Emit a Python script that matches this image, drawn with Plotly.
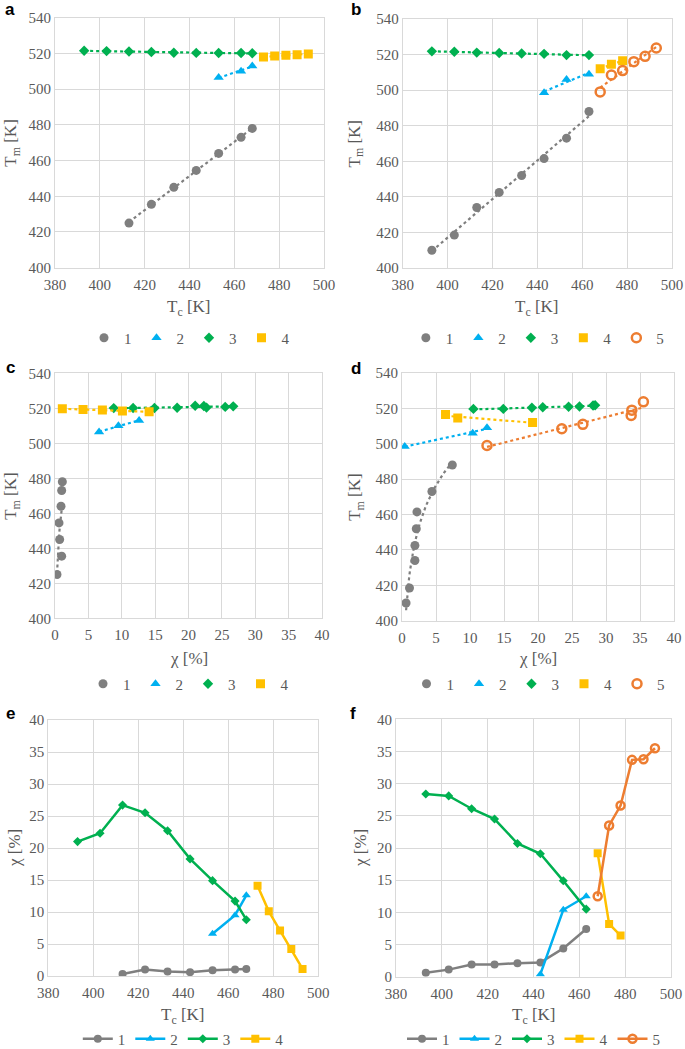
import numpy as np
import plotly.graph_objects as go

# ---------------- data: material A (panels a, c, e) ----------------
A1_tc = [413, 423, 433, 443, 453, 463, 468]
A1_tm = [425.0, 435.5, 445.0, 454.5, 464.0, 473.0, 478.0]
A1_chi = [0.3, 1.0, 0.7, 0.6, 0.9, 1.0, 1.1]

A2_tc = [453, 463, 468]
A2_tm = [506.5, 510.0, 513.0]
A2_chi = [6.6, 9.5, 12.6]

A3_tc = [393, 403, 413, 423, 433, 443, 453, 463, 468]
A3_tm = [521.5, 521.3, 521.1, 520.8, 520.4, 520.3, 520.2, 520.2, 520.1]
A3_chi = [21.0, 22.3, 26.7, 25.5, 22.7, 18.3, 14.9, 11.7, 8.8]

A4_tc = [473, 478, 483, 488, 493]
A4_tm = [518.0, 518.5, 519.0, 519.3, 519.7]
A4_chi = [14.1, 10.1, 7.1, 4.2, 1.1]

# ---------------- data: material B (panels b, d, f) ----------------
B1_tc = [393, 403, 413, 423, 433, 443, 453, 463]
B1_tm = [410.0, 418.5, 434.0, 442.5, 452.0, 461.5, 473.0, 488.0]
B1_chi = [0.6, 1.1, 1.9, 1.9, 2.1, 2.2, 4.4, 7.4]

B2_tc = [443, 453, 463]
B2_tm = [498.5, 506.0, 509.0]
B2_chi = [0.4, 10.4, 12.5]

B3_tc = [393, 403, 413, 423, 433, 443, 453, 463]
B3_tm = [521.8, 521.6, 521.1, 520.9, 520.6, 520.4, 519.7, 519.7]
B3_chi = [28.4, 28.1, 26.1, 24.5, 20.7, 19.1, 14.9, 10.5]

B4_tc = [468, 473, 478]
B4_tm = [512.0, 514.5, 516.5]
B4_chi = [19.2, 8.2, 6.4]

B5_tc = [468, 473, 478, 483, 488, 493]
B5_tm = [499.0, 508.5, 511.0, 516.0, 519.0, 523.7]
B5_chi = [12.5, 23.5, 26.6, 33.7, 33.8, 35.5]

series_names = ["1", "2", "3", "4", "5"]

# ---------------- styles ----------------
COLORS = ["#7f7f7f", "#00b0f0", "#00b050", "#ffc000", "#ed7d31"]
SYMBOLS = ["circle", "triangle-up", "diamond", "square", "circle-open"]
MSIZE = [9, 9, 8, 9, 9]
FONT = "Liberation Serif, Times New Roman, Tinos, DejaVu Serif, serif"
TXT = "#595959"
GRID = "#d9d9d9"
W, H = 685, 1049

matA = [(A1_tc, A1_tm, A1_chi), (A2_tc, A2_tm, A2_chi), (A3_tc, A3_tm, A3_chi), (A4_tc, A4_tm, A4_chi)]
matB = [(B1_tc, B1_tm, B1_chi), (B2_tc, B2_tm, B2_chi), (B3_tc, B3_tm, B3_chi),
        (B4_tc, B4_tm, B4_chi), (B5_tc, B5_tm, B5_chi)]


def px(xp):
    return min(max(xp / W, 0.0), 1.0)


def py(yp):
    return min(max(1 - yp / H, 0.0), 1.0)


# panel boxes in pixels: (left, right, top, bottom)
boxes = {
    "a": (55, 324, 17.7, 267.7),
    "b": (402.7, 672, 19, 268),
    "c": (55, 322, 373.3, 618.3),
    "d": (402, 674, 373, 620.7),
    "e": (48.3, 318.3, 720, 976),
    "f": (396, 671, 719.3, 976.7),
}
order = ["a", "b", "c", "d", "e", "f"]

fig = go.Figure()


def linfit(x, y):
    p = np.polyfit(x, y, 1)
    xs = np.array([min(x), max(x)], dtype=float)
    return xs, np.polyval(p, xs)


def logfit(x, y):
    p = np.polyfit(np.log(x), y, 1)
    xs = np.linspace(min(x), max(x), 60)
    return xs, p[0] * np.log(xs) + p[1]


def add_panel(idx, mat, xkey, ykey, mode):
    ax = "" if idx == 1 else str(idx)
    leg = "legend" if idx == 1 else "legend" + str(idx)
    for i, s in enumerate(mat):
        d = {"tc": s[0], "tm": s[1], "chi": s[2]}
        x, y = d[xkey], d[ykey]
        mk = dict(color=COLORS[i], symbol=SYMBOLS[i], size=MSIZE[i])
        if SYMBOLS[i] == "circle-open":
            mk["line"] = dict(color=COLORS[i], width=2.5)
        if mode == "trend":
            if i == 0 and xkey == "chi":
                tx, ty = logfit(x, y)
            else:
                tx, ty = linfit(x, y)
            fig.add_trace(go.Scatter(x=tx, y=ty, mode="lines", xaxis="x" + ax, yaxis="y" + ax,
                                     line=dict(color=COLORS[i], width=2.2, dash="dot"),
                                     showlegend=False, hoverinfo="skip"))
            fig.add_trace(go.Scatter(x=x, y=y, mode="markers", name=series_names[i], marker=mk,
                                     xaxis="x" + ax, yaxis="y" + ax, legend=leg))
        else:
            fig.add_trace(go.Scatter(x=x, y=y, mode="lines+markers", name=series_names[i],
                                     marker=dict(mk, size=MSIZE[i] - 1),
                                     line=dict(color=COLORS[i], width=2.5),
                                     xaxis="x" + ax, yaxis="y" + ax, legend=leg))


add_panel(1, matA, "tc", "tm", "trend")
add_panel(2, matB, "tc", "tm", "trend")
add_panel(3, matA, "chi", "tm", "trend")
add_panel(4, matB, "chi", "tm", "trend")
add_panel(5, matA, "tc", "chi", "line")
add_panel(6, matB, "tc", "chi", "line")

layout = dict(
    width=W, height=H, margin=dict(l=0, r=0, t=0, b=0, autoexpand=False),
    paper_bgcolor="white", plot_bgcolor="white",
    font=dict(family=FONT, size=15, color=TXT),
)

xranges = {"a": (380, 500, 20), "b": (380, 500, 20), "c": (0, 40, 5), "d": (0, 40, 5),
           "e": (380, 500, 20), "f": (380, 500, 20)}
yranges = {"a": (400, 540, 20), "b": (400, 540, 20), "c": (400, 540, 20), "d": (400, 540, 20),
           "e": (0, 40, 5), "f": (0, 40, 5)}
xtitles = {"a": "T<sub>c</sub> [K]", "b": "T<sub>c</sub> [K]", "c": "χ [%]", "d": "χ [%]",
           "e": "T<sub>c</sub> [K]", "f": "T<sub>c</sub> [K]"}
ytitles = {"a": "T<sub>m</sub> [K]", "b": "T<sub>m</sub> [K]", "c": "T<sub>m</sub> [K]",
           "d": "T<sub>m</sub> [K]", "e": "χ [%]", "f": "χ [%]"}
xtitle_y = {"a": 308, "b": 308, "c": 658, "d": 658, "e": 1016, "f": 1016}
ytitle_x = {"a": 12, "b": 356, "c": 12, "d": 356, "e": 14, "f": 360}
legend_y = {"a": 338, "b": 338, "c": 684, "d": 684, "e": 1039, "f": 1039}
label_pos = {"a": (10, 10), "b": (356, 10), "c": (10, 367), "d": (356, 368), "e": (10, 713), "f": (353, 713)}

annotations = []
for k, p in enumerate(order):
    n = k + 1
    sfx = "" if n == 1 else str(n)
    l, r, t, b = boxes[p]
    x0, x1, dx = xranges[p]
    y0, y1, dy = yranges[p]
    layout["xaxis" + sfx] = dict(domain=[px(l), px(r)], range=[x0, x1], dtick=dx, tick0=x0,
                                 showgrid=True, gridcolor=GRID, gridwidth=1, zeroline=False,
                                 showline=True, linecolor=GRID, mirror=True, ticks="",
                                 ticklabelstandoff=3,
                                 anchor="y" + sfx, tickfont=dict(family=FONT, size=15, color=TXT))
    layout["yaxis" + sfx] = dict(domain=[py(b), py(t)], range=[y0, y1], dtick=dy, tick0=y0,
                                 showgrid=True, gridcolor=GRID, gridwidth=1, zeroline=False,
                                 showline=True, linecolor=GRID, mirror=True, ticks="",
                                 anchor="x" + sfx, tickfont=dict(family=FONT, size=15, color=TXT))
    legkey = "legend" if n == 1 else "legend" + str(n)
    layout[legkey] = dict(orientation="h", x=px((l + r) / 2), xanchor="center",
                          y=py(legend_y[p]), yanchor="middle", bgcolor="rgba(0,0,0,0)",
                          font=dict(family=FONT, size=15, color=TXT), itemwidth=30,
                          tracegroupgap=0)
    annotations.append(dict(text=xtitles[p], x=px((l + r) / 2), y=py(xtitle_y[p]),
                            xref="paper", yref="paper", showarrow=False, xanchor="center",
                            yanchor="middle", font=dict(family=FONT, size=17, color=TXT)))
    annotations.append(dict(text=ytitles[p], x=px(ytitle_x[p]), y=py((t + b) / 2),
                            xref="paper", yref="paper", showarrow=False, xanchor="center",
                            yanchor="middle", textangle=-90,
                            font=dict(family=FONT, size=17, color=TXT)))
    lx, ly = label_pos[p]
    annotations.append(dict(text="<b>" + p + "</b>", x=px(lx), y=py(ly), xref="paper",
                            yref="paper", showarrow=False, xanchor="center", yanchor="middle",
                            font=dict(family="Liberation Sans, Arial, sans-serif", size=17,
                                      color="black")))

layout["annotations"] = annotations
fig.update_layout(**layout)
fig.write_html("out.html", config={"displayModeBar": False},
               post_script="document.body.style.margin='0';document.body.style.overflow='hidden';")
